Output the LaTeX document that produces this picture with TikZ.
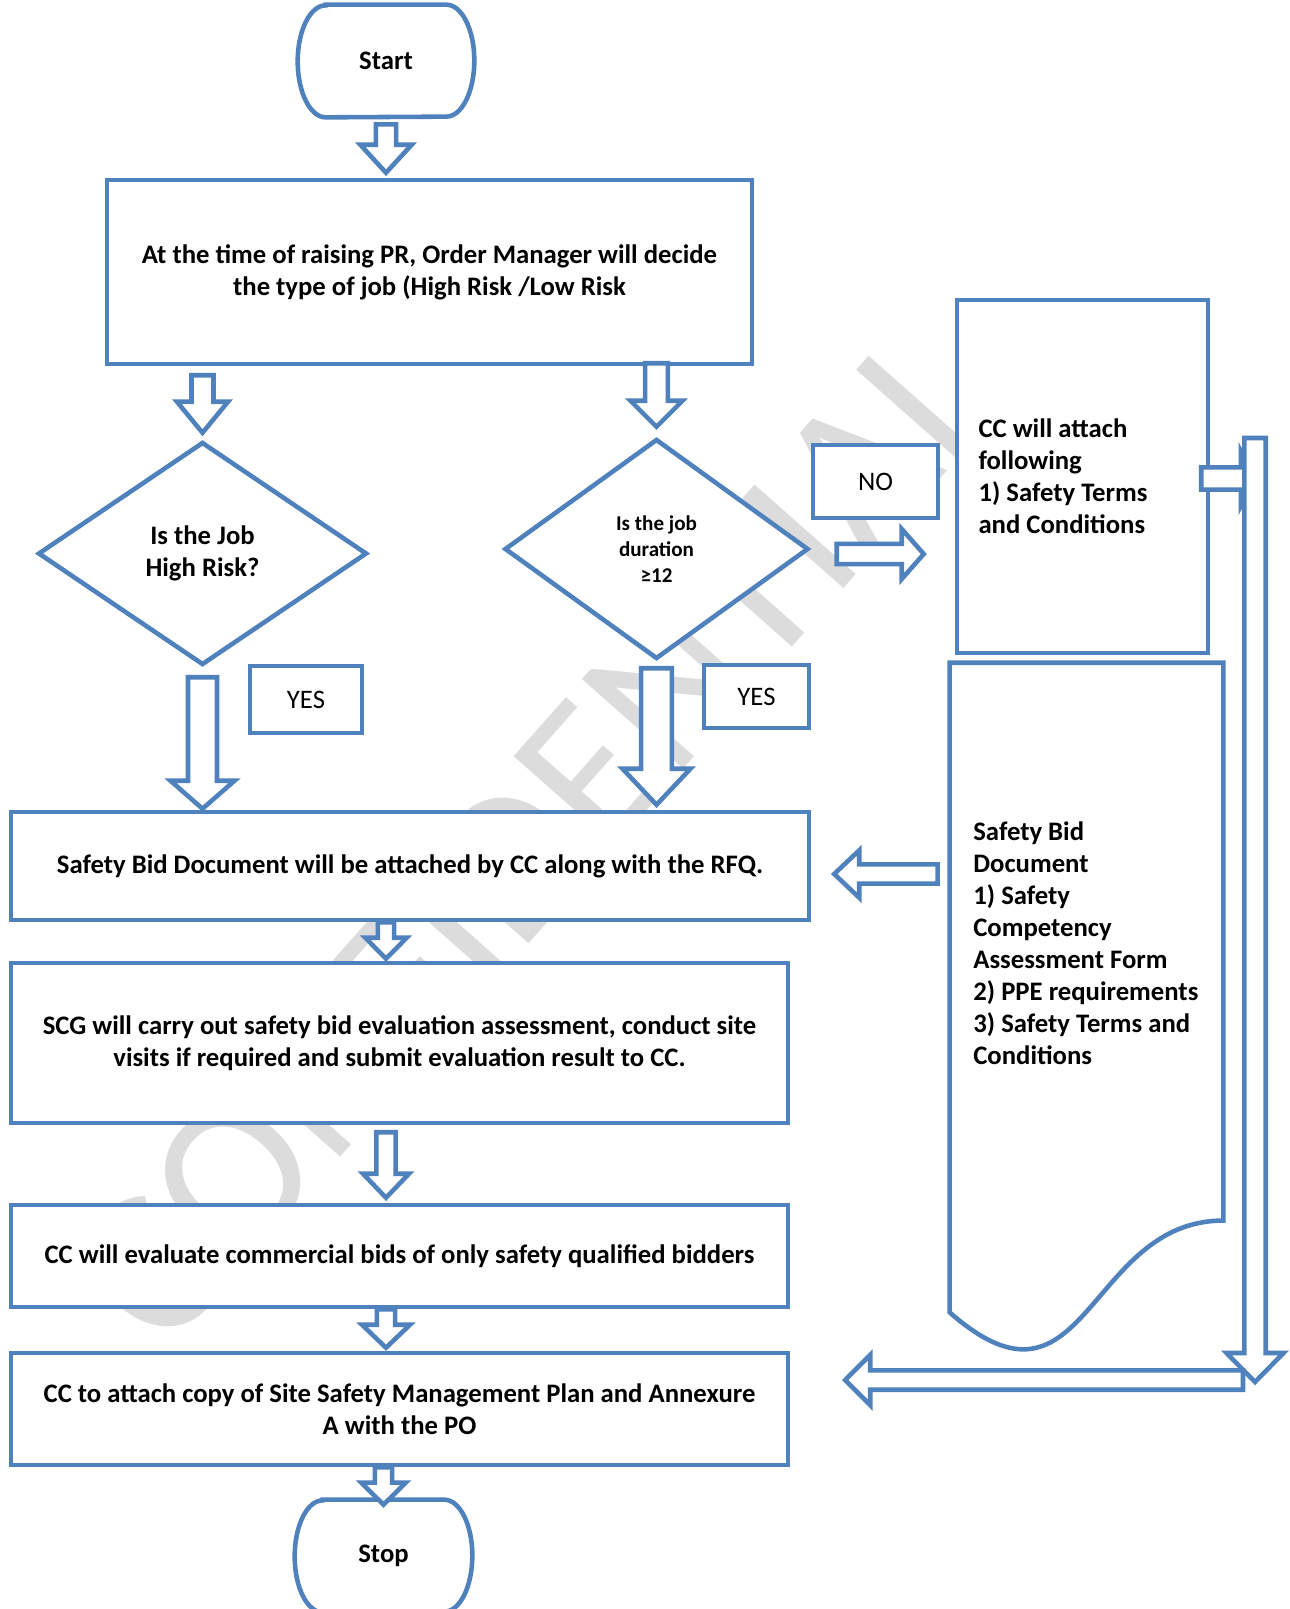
\documentclass[tikz,border=0pt]{standalone}
\usepackage{fontspec}
\setmainfont{Carlito}
\usetikzlibrary{calc,shapes.geometric}
\definecolor{flowblue}{HTML}{4F81BD}
\definecolor{markgray}{HTML}{DCDCDC}
\newcommand{\boxfont}{\fontsize{15.2pt}{18.2pt}\selectfont\bfseries}
\newcommand{\tagfont}{\fontsize{15.2pt}{18.2pt}\selectfont}
\newcommand{\smallboxfont}{\fontsize{12pt}{14.8pt}\selectfont\bfseries}
\tikzset{
  process/.style={rectangle,draw=flowblue,fill=white,line width=2.6pt,align=center,font=\boxfont,inner sep=0pt},
  listbox/.style={rectangle,draw=flowblue,fill=white,line width=2.6pt,align=flush left,font=\boxfont,inner ysep=0pt,inner xsep=0.43cm},
  listtext/.style={align=flush left,font=\boxfont,inner sep=0pt},
  decision/.style={diamond,draw=flowblue,fill=white,line width=2.6pt,align=center,font=\boxfont,inner sep=0pt},
  terminal/.style={rectangle,fill=white,font=\boxfont,minimum width=3.52cm,minimum height=2.24cm,inner sep=0pt},
  tagbox/.style={rectangle,draw=flowblue,fill=white,line width=2.6pt,font=\tagfont,inner sep=0pt},
  docline/.style={draw=flowblue,line width=2.6pt},
  watermark/.style={text=markgray,font=\fontsize{120pt}{120pt}\selectfont,rotate=48.5},
  blockarrow/.style args={#1/#2/#3/#4/#5}{draw=flowblue,fill=white,line width=2.6pt,
    to path={let \p1=($(\tikztostart)!#4*0.02cm!(\tikztotarget)$),
                 \p2=($(\tikztotarget)!#5*0.02cm!(\tikztostart)$) in
      ($(\p1)!#1*0.02cm!90:(\p2)$) -- ($(\p2)!#3*0.02cm!(\p1)!#1*0.02cm!90:(\p2)$)
      -- ($(\p2)!#3*0.02cm!(\p1)!#2*0.02cm!90:(\p2)$) -- (\p2)
      -- ($(\p2)!#3*0.02cm!(\p1)!#2*0.02cm!-90:(\p2)$) -- ($(\p2)!#3*0.02cm!(\p1)!#1*0.02cm!-90:(\p2)$)
      -- ($(\p1)!#1*0.02cm!-90:(\p2)$) -- cycle}}
}
\begin{document}
\begin{tikzpicture}[x=0.02cm,y=-0.02cm]
\useasboundingbox (0,0) rectangle (1289,1609);
\fill[white] (0,0) rectangle (1289,1609);
% watermark behind everything
\node[watermark] (wm) at (535,835) {CONFIDENTIAL};
% main column
\node[terminal] (st) at (386,61) {Start};
\node[process,minimum width=12.9cm,minimum height=3.68cm] (box1) at (429.5,272) {At the time of raising PR, Order Manager will decide\\the type of job (High Risk /Low Risk};
\node[decision,minimum width=6.58cm,minimum height=4.46cm] (dia1) at (202.5,553.5) {Is the Job\\High Risk?};
\node[decision,minimum width=6.08cm,minimum height=4.4cm,font=\smallboxfont] (dia2) at (656.5,549) {Is the job\\duration\\≥12};
\node[tagbox,minimum width=2.5cm,minimum height=1.46cm] (no) at (875.5,481.5) {NO};
\node[tagbox,minimum width=2.24cm,minimum height=1.34cm] (yes1) at (306,699.5) {YES};
\node[tagbox,minimum width=2.1cm,minimum height=1.26cm] (yes2) at (756.5,696.5) {YES};
\node[process,minimum width=15.96cm,minimum height=2.16cm] (bid) at (410,866) {Safety Bid Document will be attached by CC along with the RFQ.};
\node[process,minimum width=15.54cm,minimum height=3.2cm] (scg) at (399.5,1043) {SCG will carry out safety bid evaluation assessment, conduct site\\visits if required and submit evaluation result to CC.};
\node[process,minimum width=15.54cm,minimum height=2.04cm] (eval) at (399.5,1256) {CC will evaluate commercial bids of only safety qualified bidders};
\node[process,minimum width=15.54cm,minimum height=2.24cm] (attach) at (399.5,1409) {CC to attach copy of Site Safety Management Plan and Annexure\\A with the PO};
\node[terminal,minimum width=3.54cm] (stop) at (383.5,1556) {Stop};
\foreach \t in {st,stop}
  \draw[docline] ($(\t.north west)+(28,0)$) -- ($(\t.north east)+(-28,0)$)
    arc[start angle=90,end angle=-90,x radius=0.56cm,y radius=1.12cm]
    -- ($(\t.south west)+(28,0)$)
    arc[start angle=270,end angle=90,x radius=0.56cm,y radius=1.12cm] -- cycle;
% right column
\node[listbox,minimum width=5.02cm,minimum height=7.06cm,text width=4.16cm] (ccbox) at (1082.5,476.5) {CC will attach\\following\\1) Safety Terms\\and Conditions};
\node[rectangle,minimum width=5.46cm,minimum height=13.9cm,inner sep=0pt] (doc) at (1086.5,1010.5) {};
\draw[docline,fill=white] (doc.north west) -- (doc.north east) -- ($(doc.north east)!0.802!(doc.south east)$)
  .. controls ($(doc.north)!0.802!(doc.south)$) and ($(doc.north)!1.107!(doc.south)$) .. ($(doc.north west)!0.934!(doc.south west)$) -- cycle;
\node[listtext,anchor=west] (doctext) at (973,943.5) {Safety Bid\\Document\\1) Safety\\Competency\\Assessment Form\\2) PPE requirements\\3) Safety Terms and\\Conditions};
\coordinate (noarr) at ($(dia2.east)+(0,5)$);
\coordinate (bidarr) at ($(bid.east)+(0,8)$);
\coordinate (stubend) at (1255,478.5);
\coordinate (railtop) at (1255,438);
\coordinate (railbot) at (1255,1382);
\coordinate (railend) at (1243,1380);
% block arrows
\draw[blockarrow={10.2/25.7/28/7/5}] (st.south) to (st.south |- box1.north);
\draw[blockarrow={11/25.5/31/9/7}] (box1.south -| dia1.north) to (dia1.north);
\draw[blockarrow={11.3/26/26/-3/10}] (box1.south -| dia2.north) to (dia2.north);
\draw[blockarrow={14.5/32/28/10/1}] (dia1.south) to (dia1.south |- bid.north);
\draw[blockarrow={15.3/34/36/7/5}] (dia2.south) to (dia2.south |- bid.north);
\draw[blockarrow={8.2/20.7/21/0/2}] (bid.south -| st.south) to (scg.north -| st.south);
\draw[blockarrow={9.7/23/24/7/5}] (scg.south -| st.south) to (eval.north -| st.south);
\draw[blockarrow={9.2/24/23/0/3}] (eval.south -| st.south) to (attach.north -| st.south);
\draw[blockarrow={8.7/22.2/22/0/-5}] (attach.south -| stop.north) to (stop.north);
\draw[blockarrow={10.2/25/22/26/31}] (noarr) to (noarr -| ccbox.west);
\draw[blockarrow={9.7/23.7/25/12/23}] (bidarr -| doc.west) to (bidarr);
\draw[blockarrow={11.2/27/14/-9/0}] (ccbox.east |- stubend) to (stubend);
\draw[blockarrow={10.7/28.5/29/0/0}] (railtop) to (railbot);
\draw[blockarrow={9.7/25.2/25/0/55}] (railend) to (railend -| attach.east);
\end{tikzpicture}
\end{document}
